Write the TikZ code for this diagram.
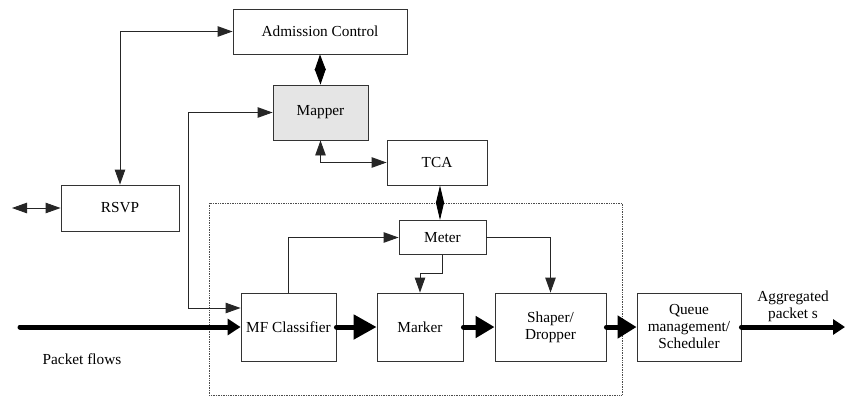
\documentclass[tikz,border=0pt]{standalone}
\usepackage{fontspec}
\setmainfont{Liberation Serif}
\usetikzlibrary{arrows.meta}
\tikzset{
  lbl/.style={font=\rmfamily\fontsize{15.3}{17}\selectfont},
  box/.style={lbl,draw=black!80,line width=0.9pt,rectangle,inner sep=0pt,align=center},
  conn/.style={line width=0.9pt,draw=black!85,
    {Triangle[length=15pt,width=10.5pt]}-{Triangle[length=15pt,width=10.5pt]}},
  connto/.style={line width=0.9pt,draw=black!85,-{Triangle[length=15pt,width=10.5pt]}},
  flow/.style={line width=5pt,line cap=round}
}
\begin{document}
\begin{tikzpicture}[x=1pt,y=-1pt]
\useasboundingbox (0,0) rectangle (845,397);
% dotted region
\draw[densely dotted,line width=0.7pt,draw=black!70] (209,203) rectangle (622,395);
% boxes
\node[box,minimum width=174pt,minimum height=45pt] (ac) at (320,31.5) {Admission Control};
\node[box,fill=black!10,minimum width=95pt,minimum height=55pt] (mapper) at (320.5,112.5) {Mapper};
\node[box,minimum width=100pt,minimum height=45pt] (tca) at (437,162.5) {TCA};
\node[box,minimum width=118pt,minimum height=46pt] (rsvp) at (120,208) {RSVP};
\node[box,fill=white,minimum width=87pt,minimum height=34pt] (meter) at (442.5,237.5) {Meter};
\node[box,minimum width=95pt,minimum height=68pt] (mf) at (288.5,327) {MF Classifier};
\node[box,minimum width=86pt,minimum height=68pt] (marker) at (420,327) {Marker};
\node[box,minimum width=111pt,minimum height=68pt] (shaper) at (550.5,327) {Shaper/\\Dropper};
\node[box,fill=white,minimum width=104pt,minimum height=68pt] (queue) at (689,327) {Queue\\management/\\Scheduler};
% labels
\node[lbl] (pf) at (82,359) {Packet flows};
\node[lbl,align=center] (agg) at (793,306) {Aggregated\\packet s};
% coordinates
\coordinate (rl) at (12,208);
\coordinate (pin) at (20,327);
\coordinate (pout) at (845,327);
\coordinate (k1) at (188,112.5);
\coordinate (k2) at (188,308);
% thin connectors
\draw[conn] (ac.west) -| (rsvp.north);
\draw[line width=0.9pt,{Triangle[length=15.5pt,width=11pt]}-{Triangle[length=15.5pt,width=11pt]}]
  (ac.south) -- (mapper.north);
\draw[conn] (mapper.west) -- (k1) -- (k2) -- ([yshift=19pt]mf.west);
\draw[conn] (mapper.south) |- (tca.west);
\draw[line width=0.9pt,{Triangle[length=17.5pt,width=8pt]}-{Triangle[length=17.5pt,width=8pt]}]
  ([xshift=3pt]tca.south) -- ([xshift=3pt]tca.south |- meter.north);
\draw[conn] (rl) -- (rsvp.west);
\draw[connto] (mf.north) |- (meter.west);
\draw[connto] (meter.south) -- ++(0,18) -| (marker.north);
\draw[connto] (meter.east) -| (shaper.north);
% thick flow arrows
\draw[flow,-{Triangle[length=13pt,width=16pt]}] (pin) -- (mf.west);
\draw[flow,-{Triangle[length=23pt,width=24pt]}] (mf.east) -- (marker.west);
\draw[flow,-{Triangle[length=19pt,width=21pt]}] (marker.east) -- (shaper.west);
\draw[flow,-{Triangle[length=19pt,width=22pt]}] (shaper.east) -- (queue.west);
\draw[flow,-{Triangle[length=12pt,width=15pt]}] (queue.east) -- (pout);
\end{tikzpicture}
\end{document}
